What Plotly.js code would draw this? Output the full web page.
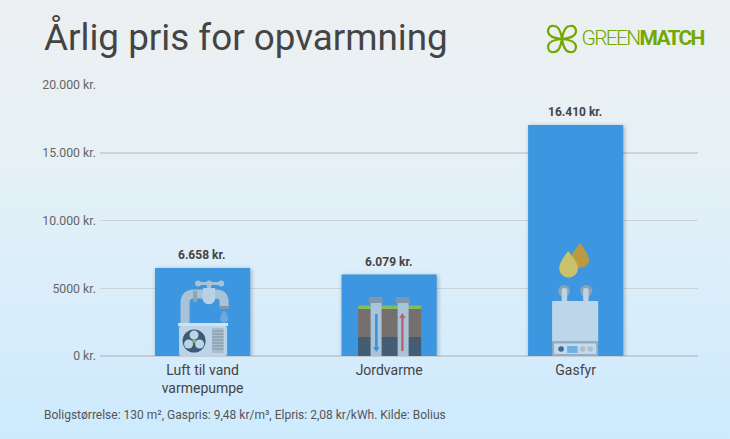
<!DOCTYPE html>
<html><head><meta charset="utf-8">
<script src="https://cdn.plot.ly/plotly-3.0.1.min.js"></script>
<style>
html,body{margin:0;padding:0;width:730px;height:439px;overflow:hidden;background:linear-gradient(180deg,#eceff1 0%,#e6f1f6 35%,#cdeafe 100%);}
#c{width:730px;height:439px;}
.bars .point path{filter:drop-shadow(1px 1px 2px rgba(60,80,100,.45));}
</style></head><body><div id="c"></div>
<script>
const categories = ['Luft til vand<br>varmepumpe', 'Jordvarme', 'Gasfyr'];
const barValues = [6500, 6015, 17050];
const valueLabels = ['6.658 kr.', '6.079 kr.', '16.410 kr.'];
const tickValues = [0, 5000, 10000, 15000, 20000];
const tickLabels = ['0 kr.', '5000 kr.', '10.000 kr.', '15.000 kr.', '20.000 kr.'];
const titleText = 'Årlig pris for opvarmning';
const footText = 'Boligstørrelse: 130 m², Gaspris: 9,48 kr/m³, Elpris: 2,08 kr/kWh. Kilde: Bolius';

function uri(vb, body){
  return 'data:image/svg+xml;base64,' + btoa('<svg xmlns="http://www.w3.org/2000/svg" viewBox="'+vb+'" preserveAspectRatio="none">'+body+'</svg>');
}
const iconPump = uri('155 268 95 88',
 '<path d="M185 323V303Q185 294 194 294H216Q224 294 224 302V307" fill="none" stroke="#a9c2d6" stroke-width="9"/>'+
 '<rect x="193" y="291" width="4" height="11" fill="#8ea5b6"/>'+
 '<rect x="219.500" y="306" width="9" height="3" fill="#8199aa"/>'+
 '<rect x="198" y="282" width="23" height="3" fill="#a9c2d6"/><circle cx="198" cy="283.500" r="3" fill="#a9c2d6"/><circle cx="209" cy="283.500" r="3" fill="#a9c2d6"/><circle cx="221" cy="283.500" r="3" fill="#a9c2d6"/>'+
 '<rect x="207" y="284" width="4" height="7" fill="#a9c2d6"/>'+
 '<path d="M203 288H215V296A6.500 6.500 0 1 1 202.500 296Z" fill="#b9d1e6"/>'+
 '<path d="M224 310Q220 316 220 318.500A4 4 0 0 0 228 318.500Q228 316 224 310Z" fill="#6fa9dc"/>'+
 '<rect x="179" y="326" width="48" height="30" rx="2" fill="#bcd4ea"/>'+
 '<rect x="178" y="323" width="50" height="3" fill="#d2e2f0"/>'+
 '<circle cx="194" cy="341" r="11.500" fill="#3c5a73"/>'+
 '<circle cx="194" cy="335" r="4.500" fill="#bcd4ea"/><circle cx="188.500" cy="344" r="4.500" fill="#bcd4ea"/><circle cx="199.500" cy="344" r="4.500" fill="#bcd4ea"/>'+
 '<circle cx="194" cy="341" r="2" fill="#86b56a"/>'+
 '<rect x="212" y="328" width="11.500" height="25" fill="#a8bccb"/>'+
 '<path d="M212 331H223.500M212 334H223.500M212 337H223.500M212 340H223.500M212 343H223.500M212 346H223.500M212 349H223.500" stroke="#7e93a4" stroke-width="1"/>');
const iconGround = uri('341 275 95 81',
 '<rect x="357.500" y="309" width="63" height="28" fill="#75706e"/>'+
 '<rect x="357.500" y="337" width="63" height="19" fill="#435d75"/>'+
 '<rect x="357.500" y="305.500" width="63" height="3.500" fill="#86bb5c"/>'+
 '<rect x="370" y="300" width="11" height="56" fill="#a9c3d9"/><rect x="397" y="300" width="11" height="56" fill="#a9c3d9"/>'+
 '<rect x="368" y="297" width="14" height="6" rx="1.500" fill="#7f97a8"/><rect x="395" y="297" width="14" height="6" rx="1.500" fill="#7f97a8"/>'+
 '<rect x="374.500" y="314" width="2.500" height="34" fill="#3f8fd6"/><path d="M372.500 347H379L375.700 352Z" fill="#3f8fd6"/>'+
 '<rect x="400.500" y="317" width="2.500" height="34" fill="#c0616a"/><path d="M398.500 318H405L401.700 313Z" fill="#c0616a"/>');
const iconGas = uri('528 230 95 126',
 '<path d="M580 243Q570 255 570 261A10 10 0 0 0 589 261Q589 255 580 243Z" fill="#bd9a3f"/>'+
 '<path d="M568 251Q559 263 559 268A9.500 9.500 0 0 0 578 268Q578 263 568 251Z" fill="#c9c26a"/>'+
 '<circle cx="564" cy="291" r="6" fill="#8da3b5"/><circle cx="586" cy="291" r="6" fill="#8da3b5"/>'+
 '<rect x="561.500" y="288" width="5.500" height="14" rx="2.500" fill="#bcd3e6"/><rect x="583" y="288" width="5.500" height="14" rx="2.500" fill="#bcd3e6"/>'+
 '<rect x="552" y="301" width="46" height="41" fill="#bed6ea"/>'+
 '<rect x="552" y="341" width="46" height="15" fill="#91aec4"/>'+
 '<rect x="554" y="343.500" width="42" height="10.500" fill="#c5d9ea"/>'+
 '<rect x="567" y="346" width="10.500" height="7" fill="#6fb0e5"/>'+
 '<circle cx="561" cy="349" r="2.800" fill="#3c6a90"/><circle cx="582.500" cy="349" r="2.800" fill="#a9c0d2"/><circle cx="590" cy="349" r="2.800" fill="#a9c0d2"/>');
const logoMark = uri('0 0 32 30',
 '<g fill="none" stroke="#73a800" stroke-width="2.200" stroke-linejoin="round">'+
 '<path d="M16 15Q3 14 2 8Q2 1 8 2Q14 2 16 15Z"/><path d="M16 15Q29 14 30 8Q30 1 24 2Q18 2 16 15Z"/>'+
 '<path d="M16 15Q3 16 2 22Q2 29 8 28Q14 28 16 15Z"/><path d="M16 15Q29 16 30 22Q30 29 24 28Q18 28 16 15Z"/></g>');

const u = 20000/271;
const bw = 0.51;
const layout = {
  width:730, height:439, autosize:false,
  margin:{l:100,r:32,t:85,b:83,pad:0},
  paper_bgcolor:'rgba(0,0,0,0)', plot_bgcolor:'rgba(0,0,0,0)',
  font:{family:'Roboto, sans-serif',color:'#555'},
  showlegend:false, bargap:0.49,
  xaxis:{type:'linear',range:[-0.55,2.656],tickmode:'array',tickvals:[0,1,2],ticktext:categories,tickfont:{size:14,color:'#444'},ticklabelstandoff:4,showgrid:false,zeroline:false,showline:false,ticks:'',fixedrange:true,automargin:false,ticklen:0},
  yaxis:{range:[0,20000],tickmode:'array',tickvals:tickValues,ticktext:tickLabels,tickfont:{size:12.3,color:'#666'},ticklabelstandoff:3,
         gridcolor:'#c9d3d8',gridwidth:1.5,zeroline:true,zerolinecolor:'#c2ccd2',zerolinewidth:1.5,showline:false,ticks:'',fixedrange:true,automargin:false},
  title:{text:titleText,x:44/730,xanchor:'left',xref:'container',y:1-37/439,yanchor:'middle',yref:'container',pad:{l:0,r:0,t:0,b:0},font:{family:'Roboto, sans-serif',size:36.8,color:'#444'}},
  images:[
    {source:iconPump,xref:'x',yref:'y',x:0,y:0,sizex:bw,sizey:88*u,xanchor:'center',yanchor:'bottom',sizing:'stretch',layer:'above'},
    {source:iconGround,xref:'x',yref:'y',x:1,y:0,sizex:bw,sizey:81*u,xanchor:'center',yanchor:'bottom',sizing:'stretch',layer:'above'},
    {source:iconGas,xref:'x',yref:'y',x:2,y:0,sizex:bw,sizey:126*u,xanchor:'center',yanchor:'bottom',sizing:'stretch',layer:'above'},
    {source:logoMark,xref:'paper',yref:'paper',x:(546-100)/598,y:(356-24)/271,sizex:32/598,sizey:30/271,xanchor:'left',yanchor:'top',sizing:'stretch',layer:'above'}
  ],
  annotations:[
    {xref:'paper',yref:'paper',x:-58/598,y:(356-415)/271,xanchor:'left',yanchor:'middle',showarrow:false,text:footText,font:{size:12,color:'#555'}},
    {xref:'paper',yref:'paper',x:(571-100)/598,y:(356-38)/271,xanchor:'left',yanchor:'middle',showarrow:false,text:'GREEN<b>MATCH</b>',font:{size:21,color:'#73a800',weight:300}}
  ].concat(categories.map((c,i)=>({xref:'x',yref:'y',x:i,y:barValues[i],xanchor:'center',yanchor:'bottom',yshift:4,xshift:-1,showarrow:false,text:'<b>'+valueLabels[i]+'</b>',font:{size:12,color:'#444'}})))
};
Plotly.newPlot('c',[{
  type:'bar',x:categories.map((c,i)=>i),y:barValues,
  marker:{color:'#3d97e0',line:{width:0}},hoverinfo:'skip'
}],layout,{displayModeBar:false,staticPlot:true}).then(()=>{
  document.querySelectorAll('.annotation-text').forEach(t=>{ if(t.textContent.indexOf('GREEN')===0) t.style.letterSpacing='-1.7px'; });
});
</script></body></html>
